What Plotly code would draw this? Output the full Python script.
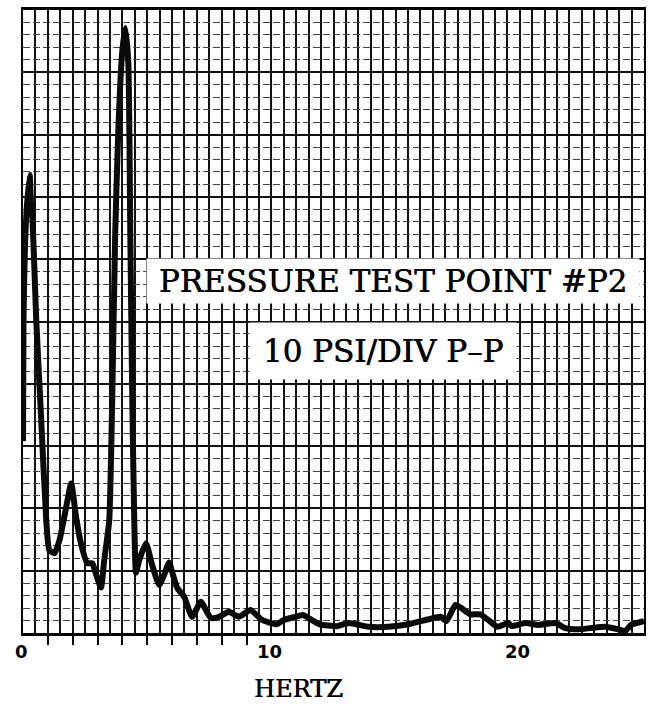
import plotly.graph_objects as go

# ---- data ----
freq_hz = [0.0, 0.02, 0.12, 0.27, 0.32, 0.38, 0.53, 0.73, 0.93, 1.06,
           1.27, 1.47, 1.71, 1.94, 2.14, 2.35, 2.59, 2.79, 2.95, 3.14,
           3.27, 3.47, 3.59, 3.71, 3.83, 3.99, 4.12, 4.24, 4.32, 4.40,
           4.48, 4.55, 4.68, 4.95, 5.2, 5.48, 5.68, 5.88, 6.04, 6.2,
           6.49, 6.81, 7.16, 7.56, 7.89, 8.29, 8.69, 9.16, 9.62, 10.22,
           10.5, 10.97, 11.27, 11.5, 11.95, 12.63, 13.11, 13.92, 14.72, 15.52,
           16.33, 16.81, 17.05, 17.41, 17.65, 18.01, 18.41, 18.73, 19.1, 19.54,
           19.66, 20.22, 20.74, 21.43, 21.83, 22.35, 22.87, 23.43, 23.96, 24.24,
           24.48, 25.0]
pressure_psi = [30.8, 50, 66, 73.5, 69.2, 66.8, 50.5, 34.5, 18.5, 13.3,
                12.8, 14.9, 19.6, 24.0, 18.5, 14.1, 11.2, 11.2, 9.3, 7.3,
                11.7, 18.0, 37.2, 63.9, 79.9, 93.1, 97.1, 91.5, 63.9, 37.2,
                18.0, 9.7, 11.7, 14.4, 10.9, 7.7, 9.3, 11.3, 9.3, 7.3,
                5.8, 2.6, 5.0, 2.4, 2.6, 3.4, 2.6, 3.7, 2.1, 1.4,
                2.1, 2.6, 2.9, 2.4, 1.4, 1.1, 1.6, 1.0, 1.0, 1.4,
                2.2, 2.6, 1.9, 4.5, 4.0, 3.0, 3.0, 2.1, 1.0, 1.6,
                1.1, 1.6, 1.3, 1.6, 0.8, 0.6, 0.8, 1.0, 0.6, 0.3,
                1.3, 1.9]

x_label_vals = [0, 10, 20]
x_label_text = ["0", "10", "20"]
x_small_ticks = [1, 2, 3, 4, 5, 6, 7, 8, 9]
x_range = [0, 25]
y_range = [0, 100]

title_text = "PRESSURE TEST POINT #P2"
scale_text = "10 PSI/DIV P\u2013P"
x_title = "HERTZ"

# ---- figure ----
fig = go.Figure()
fig.add_trace(go.Scatter(
    x=freq_hz, y=pressure_psi, mode="lines",
    line=dict(color="#0a0a0a", width=6, shape="spline", smoothing=0.5),
    hoverinfo="skip", showlegend=False,
))
# small 1 Hz tick marks hanging below the baseline
fig.add_trace(go.Scatter(
    x=x_small_ticks, y=[-0.72] * len(x_small_ticks), mode="markers",
    marker=dict(symbol="line-ns", size=9, color="#000",
                line=dict(color="#000", width=2.2)),
    cliponaxis=False, hoverinfo="skip", showlegend=False,
))

fig.update_layout(
    width=653, height=711,
    margin=dict(l=23, r=7, t=7, b=78),
    paper_bgcolor="white", plot_bgcolor="white",
    showlegend=False,
    xaxis=dict(
        range=x_range,
        tickmode="array", tickvals=x_small_ticks,
        ticks="outside", ticklen=9, tickwidth=2.2, tickcolor="#000",
        showticklabels=False,
        showgrid=True, gridcolor="#111", gridwidth=1.8, zeroline=False,
        showline=True, linecolor="#000", linewidth=3, mirror=True,
        minor=dict(dtick=0.5, tick0=0, ticks="", showgrid=True,
                   gridcolor="#111", gridwidth=1.8),
    ),
    yaxis=dict(
        range=y_range, dtick=10, tick0=0,
        showgrid=True, gridcolor="#111", gridwidth=2,
        showticklabels=False, ticks="", zeroline=False,
        showline=True, linecolor="#000", linewidth=2, mirror=True,
        minor=dict(dtick=2, showgrid=True, gridcolor="#444", gridwidth=1,
                   griddash="7px,3px"),
    ),
)

# x tick labels
for v, t in zip(x_label_vals, x_label_text):
    fig.add_annotation(
        x=v, y=-0.029, xref="x", yref="paper", yanchor="middle", xshift=-2,
        text=t, showarrow=False,
        font=dict(family="DejaVu Sans", size=18, color="#000", weight="bold"),
    )

heavy = "0.6px 0 0 #000"
fig.add_annotation(
    x=14.88, y=56.5, xref="x", yref="y", text=title_text, showarrow=False,
    font=dict(family="DejaVu Serif", size=31, color="#000", shadow=heavy),
    bgcolor="white", width=490, height=42,
)
fig.add_annotation(
    x=14.5, y=45.2, xref="x", yref="y", text=scale_text, showarrow=False,
    font=dict(family="DejaVu Serif", size=31, color="#000", shadow=heavy),
    bgcolor="white", width=264, height=54,
)
fig.add_annotation(
    x=11.1, y=-0.09, xref="x", yref="paper", yanchor="middle",
    text=x_title, showarrow=False,
    font=dict(family="DejaVu Serif", size=24, color="#000", shadow=heavy),
)

fig.write_html("out.html")
